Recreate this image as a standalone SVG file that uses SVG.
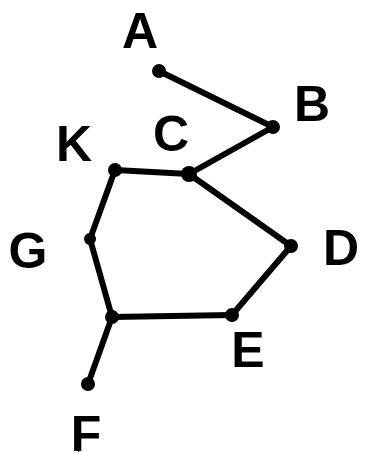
<svg xmlns="http://www.w3.org/2000/svg" width="385" height="452" viewBox="0 0 385 452">
<style>
.e{stroke:#000;stroke-width:6;stroke-linecap:round;fill:none}
.d{fill:#000}
.t{font-family:"Liberation Sans",Arial,sans-serif;font-weight:bold;font-size:50px;fill:#000;text-anchor:middle}
</style>
<rect width="385" height="452" fill="#fff"/>
<g id="connectors">
<line class="e" x1="159" y1="71" x2="273" y2="127"/>
<line class="e" x1="273" y1="127" x2="189" y2="174"/>
<line class="e" x1="189" y1="174" x2="115" y2="170"/>
<line class="e" x1="189" y1="174" x2="291" y2="246"/>
<line class="e" x1="115" y1="170" x2="90" y2="239"/>
<line class="e" x1="90" y1="239" x2="112" y2="317"/>
<line class="e" x1="112" y1="317" x2="232" y2="315"/>
<line class="e" x1="232" y1="315" x2="291" y2="246"/>
<line class="e" x1="112" y1="317" x2="88" y2="384"/>
</g>
<g id="A"><circle class="d" cx="159" cy="71" r="7"/><text class="t" x="140" y="48">A</text></g>
<g id="B"><circle class="d" cx="273" cy="127" r="7"/><text class="t" x="312" y="121">B</text></g>
<g id="C"><circle class="d" cx="189" cy="174" r="8"/><text class="t" x="171" y="151">C</text></g>
<g id="K"><circle class="d" cx="115" cy="170" r="7"/><text class="t" x="74" y="161">K</text></g>
<g id="G"><circle class="d" cx="90" cy="239" r="6"/><text class="t" x="28" y="268">G</text></g>
<g id="D"><circle class="d" cx="291" cy="246" r="7"/><text class="t" x="341" y="265">D</text></g>
<g id="E"><circle class="d" cx="232" cy="315" r="7"/><text class="t" x="248" y="367">E</text></g>
<g id="J"><circle class="d" cx="112" cy="317" r="7"/></g>
<g id="F"><circle class="d" cx="88" cy="384" r="7"/><text class="t" x="86" y="451">F</text></g>
<line x1="78.5" y1="443" x2="78.5" y2="452" stroke="#000" stroke-width="1"/>
</svg>
